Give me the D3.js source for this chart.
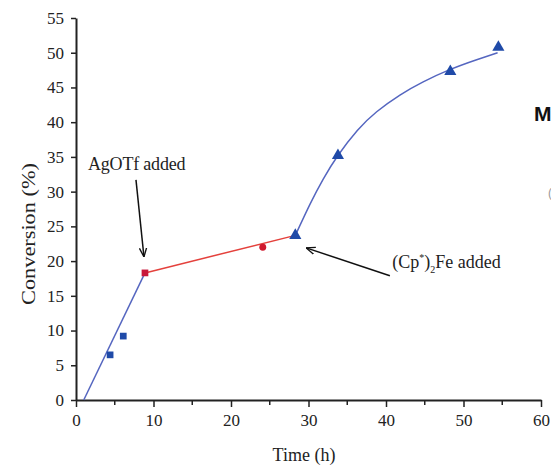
<!DOCTYPE html>
<html>
<head>
<meta charset="utf-8">
<script src="https://cdn.jsdelivr.net/npm/d3@7"></script>
<style>
  body { margin: 0; background: #fff; }
  svg { display: block; }
</style>
</head>
<body>
<div id="chart"></div>
<script>
// data
const xTicks = [0, 10, 20, 30, 40, 50, 60];
const xMinor = [5, 15, 25, 35, 45, 55];
const yTicks = [0, 5, 10, 15, 20, 25, 30, 35, 40, 45, 50, 55];

const blueSqTime = [4.4, 6.1];
const blueSqConv = [6.5, 9.2];
const redSqTime = [8.9];
const redSqConv = [18.3];
const redDotTime = [24.1];
const redDotConv = [22.0];
const triTime = [28.3, 33.8, 48.3, 54.5];
const triConv = [23.7, 35.2, 47.3, 50.8];

// fitted lines
const fit1Time = [1.0, 8.9];
const fit1Conv = [0, 18.3];
const fit2Time = [8.9, 28.3];
const fit2Conv = [18.3, 23.7];
const fit3Time = [28.3, 30.2, 31.9, 33.8, 36.3, 38.8, 41.8, 44.8, 48.3, 51.7, 54.4];
const fit3Conv = [23.7, 28.2, 31.8, 35.2, 38.8, 41.5, 43.9, 45.8, 47.6, 49.0, 50.0];

const w = 551, h = 465;
const margin = { left: 76, right: 10, top: 18, bottom: 65 };

const svg = d3.select("#chart")
    .append("svg")
    .attr("width", w)
    .attr("height", h);

//scales
const x = d3.scaleLinear().domain([0, 60]).range([margin.left, 541]);
const y = d3.scaleLinear().domain([0, 55]).range([h - margin.bottom, margin.top]);

const serif = "'Liberation Serif', 'Times New Roman', serif";

//axes
const xaxis = d3.axisBottom(x).tickValues(xTicks).tickSize(7).tickPadding(7).tickSizeOuter(0);
const yaxis = d3.axisLeft(y).tickValues(yTicks).tickSize(5).tickPadding(7).tickSizeOuter(0);

const xgrp = svg.append("g")
    .attr("transform", `translate(0,${y(0)})`)
    .call(xaxis);
// minor ticks on x
xgrp.selectAll(".minor")
    .data(xMinor)
    .enter()
    .append("line")
    .attr("class", "minor")
    .attr("x1", d => x(d)).attr("x2", d => x(d))
    .attr("y1", 0).attr("y2", 5)
    .attr("stroke", "#222").attr("stroke-width", 1.5);

const ygrp = svg.append("g")
    .attr("transform", `translate(${x(0)},0)`)
    .call(yaxis);

[xgrp, ygrp].forEach(g => {
    g.select(".domain").attr("stroke", "#222").attr("stroke-width", 2);
    g.selectAll(".tick line").attr("stroke", "#222").attr("stroke-width", 1.5);
    g.selectAll(".tick text")
        .attr("fill", "#222")
        .attr("font-family", serif)
        .attr("font-size", "17px");
});

//axis labels
svg.append("text")
    .text("Time (h)")
    .attr("x", 304)
    .attr("y", 461)
    .attr("text-anchor", "middle")
    .attr("font-family", serif)
    .attr("font-size", "18px")
    .attr("fill", "#222");

svg.append("text")
    .text("Conversion (%)")
    .attr("transform", "translate(35,234) rotate(-90)")
    .attr("text-anchor", "middle")
    .attr("textLength", 142)
    .attr("lengthAdjust", "spacingAndGlyphs")
    .attr("font-family", serif)
    .attr("font-size", "19px")
    .attr("fill", "#222");

//fit lines
const line = d3.line().x(d => x(d[0])).y(d => y(d[1]));
const curve = d3.line().x(d => x(d[0])).y(d => y(d[1])).curve(d3.curveNatural);

svg.append("path")
    .attr("d", line(d3.zip(fit1Time, fit1Conv)))
    .attr("fill", "none").attr("stroke", "#5566c0").attr("stroke-width", 1.5);
svg.append("path")
    .attr("d", line(d3.zip(fit2Time, fit2Conv)))
    .attr("fill", "none").attr("stroke", "#e4413c").attr("stroke-width", 1.5);
svg.append("path")
    .attr("d", curve(d3.zip(fit3Time, fit3Conv)))
    .attr("fill", "none").attr("stroke", "#5566c0").attr("stroke-width", 1.5);

//markers
const sq = d3.symbol().type(d3.symbolSquare).size(45);
const tri = d3.symbol().type(d3.symbolTriangle).size(64);
const dot = d3.symbol().type(d3.symbolCircle).size(38);

svg.selectAll(".bsq").data(d3.zip(blueSqTime, blueSqConv)).enter()
    .append("path").attr("class", "bsq")
    .attr("d", sq)
    .attr("transform", d => `translate(${x(d[0])},${y(d[1])})`)
    .attr("fill", "#1f4aa8");
svg.selectAll(".rsq").data(d3.zip(redSqTime, redSqConv)).enter()
    .append("path").attr("class", "rsq")
    .attr("d", sq)
    .attr("transform", d => `translate(${x(d[0])},${y(d[1])})`)
    .attr("fill", "#c8173a");
svg.selectAll(".rdot").data(d3.zip(redDotTime, redDotConv)).enter()
    .append("path").attr("class", "rdot")
    .attr("d", dot)
    .attr("transform", d => `translate(${x(d[0])},${y(d[1])})`)
    .attr("fill", "#d01a2e");
svg.selectAll(".tri").data(d3.zip(triTime, triConv)).enter()
    .append("path").attr("class", "tri")
    .attr("d", tri)
    .attr("transform", d => `translate(${x(d[0])},${y(d[1])})`)
    .attr("fill", "#1f4aa8");

//annotations
svg.append("defs").append("marker")
    .attr("id", "head")
    .attr("viewBox", "0 0 10 10")
    .attr("refX", 10).attr("refY", 5)
    .attr("markerWidth", 9).attr("markerHeight", 9)
    .attr("markerUnits", "userSpaceOnUse")
    .attr("orient", "auto")
    .append("path")
    .attr("d", "M0,1 L10,5 L0,9")
    .attr("fill", "none")
    .attr("stroke", "#111")
    .attr("stroke-width", 1.5);

const arrows = [
    { from: [7.74, 31.7], to: [8.77, 20.6] },
    { from: [40.5, 17.9], to: [29.7, 21.9] }
];
svg.selectAll(".arrow").data(arrows).enter()
    .append("line").attr("class", "arrow")
    .attr("x1", d => x(d.from[0])).attr("y1", d => y(d.from[1]))
    .attr("x2", d => x(d.to[0])).attr("y2", d => y(d.to[1]))
    .attr("stroke", "#111").attr("stroke-width", 1.5)
    .attr("marker-end", "url(#head)");

svg.append("text")
    .text("AgOTf added")
    .attr("x", x(1.55))
    .attr("y", y(33.1))
    .attr("font-family", serif)
    .attr("font-size", "18px")
    .attr("letter-spacing", "-0.2px")
    .attr("fill", "#222");

const cp = svg.append("text")
    .attr("x", x(40.8))
    .attr("y", y(19.0))
    .attr("font-family", serif)
    .attr("font-size", "18px")
    .attr("fill", "#222");
cp.append("tspan").text("(Cp");
cp.append("tspan").text("*").attr("font-size", "10px").attr("dy", -7);
cp.append("tspan").text(")").attr("dy", 7);
cp.append("tspan").text("2").attr("font-size", "10px").attr("dy", 5);
cp.append("tspan").text("Fe added").attr("dy", -5);

// bits of the neighbouring figure cut at the edge
svg.append("text")
    .text("M")
    .attr("x", 534)
    .attr("y", 121)
    .attr("font-family", "'Liberation Sans', Arial, sans-serif")
    .attr("font-weight", "bold")
    .attr("font-size", "21px")
    .attr("fill", "#111");
svg.append("text")
    .text("(")
    .attr("x", 548)
    .attr("y", 197)
    .attr("font-family", "'Liberation Sans', Arial, sans-serif")
    .attr("font-size", "12px")
    .attr("fill", "#999");
</script>
</body>
</html>
